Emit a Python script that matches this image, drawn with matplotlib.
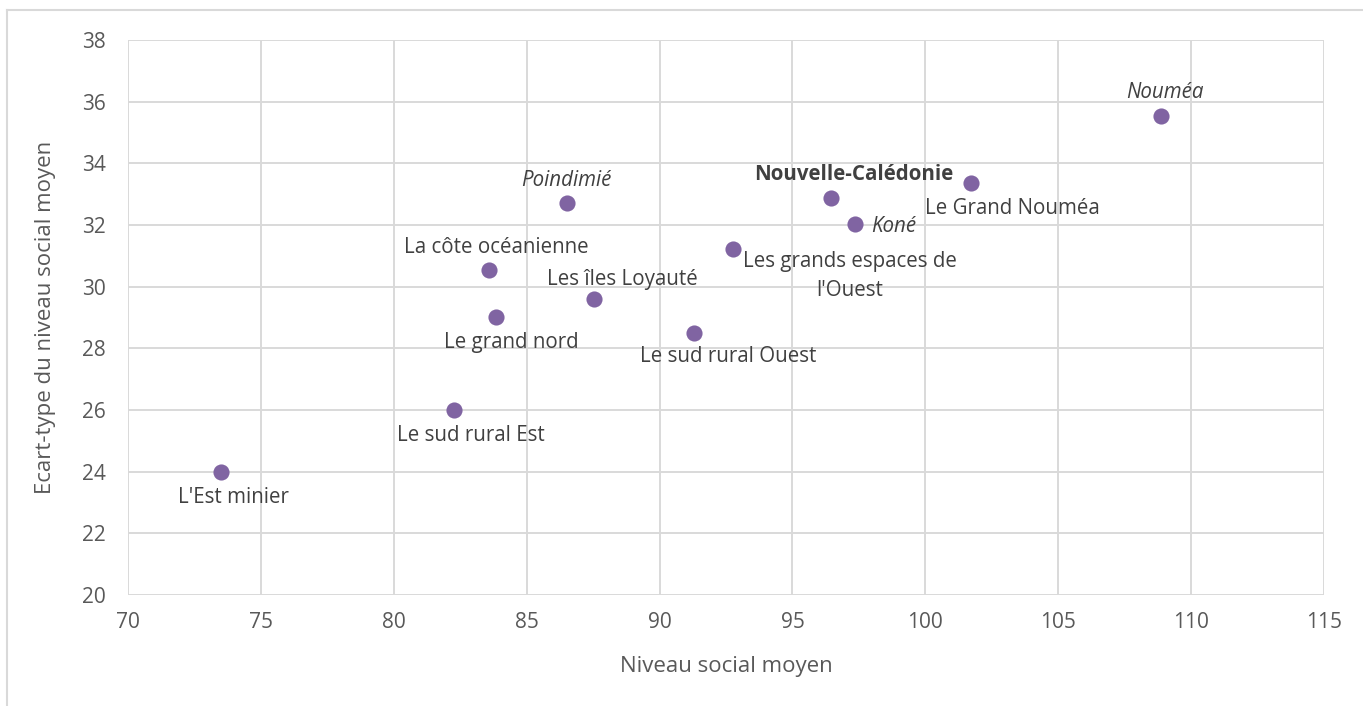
import matplotlib
matplotlib.use("Agg")
import matplotlib.pyplot as plt
from matplotlib.lines import Line2D

# données
regions = ["Nouméa", "Le Grand Nouméa", "Nouvelle-Calédonie", "Koné",
           "Les grands espaces de\nl'Ouest", "Poindimié", "La côte océanienne",
           "Les îles Loyauté", "Le grand nord", "Le sud rural Ouest",
           "Le sud rural Est", "L'Est minier"]
niveau_moyen = [108.85, 101.72, 96.44, 97.35, 92.78, 86.51, 83.59,
                87.53, 83.86, 91.29, 82.26, 73.51]
ecart_type = [35.53, 33.36, 32.88, 32.03, 31.22, 32.70, 30.54,
              29.59, 29.03, 28.51, 26.00, 23.99]

# style des étiquettes : (dx, dy en pixels, ha, style, weight)
label_style = [
    (4, 24, 'center', 'italic', 'normal'),
    (41, -25, 'center', 'normal', 'normal'),
    (23, 23, 'center', 'normal', 'bold'),
    (16, -2, 'left', 'italic', 'normal'),
    (116, -27, 'center', 'normal', 'normal'),
    (0, 23, 'center', 'italic', 'normal'),
    (7, 23, 'center', 'normal', 'normal'),
    (28, 20, 'center', 'normal', 'normal'),
    (15, -26, 'center', 'normal', 'normal'),
    (34, -24, 'center', 'normal', 'normal'),
    (17, -26, 'center', 'normal', 'normal'),
    (12, -26, 'center', 'normal', 'normal'),
]

GRID = '#D9D9D9'
TEXT = '#404040'
TICK = '#595959'
POINT = '#8064A2'

plt.rcParams['font.family'] = ['Open Sans', 'DejaVu Sans']

fig = plt.figure(figsize=(13.63, 7.06), dpi=100)
ax = fig.add_axes([128 / 1363, 1 - 595 / 706, 1196 / 1363, 555 / 706])

ax.scatter(niveau_moyen, ecart_type, s=135, color=POINT, zorder=3, linewidths=0)

for name, x, y, (dx, dy, ha, st, wt) in zip(regions, niveau_moyen, ecart_type, label_style):
    ax.annotate(name, (x, y), xytext=(dx, dy), textcoords='offset pixels',
                ha=ha, va='center', fontsize=14.8, color=TEXT, style=st,
                weight=wt, linespacing=1.55, zorder=4)

ax.set_xlim(70, 115)
ax.set_ylim(20, 38)
ax.set_xticks(range(70, 116, 5))
ax.set_yticks(range(20, 39, 2))
ax.grid(True, color=GRID, linewidth=1.4)
ax.set_axisbelow(True)
for s in ax.spines.values():
    s.set_visible(False)
ax.tick_params(length=0, labelsize=15, labelcolor=TICK, pad=12)
ax.tick_params(axis='y', pad=16)

ax.set_xlabel('Niveau social moyen', fontsize=16, color=TICK, labelpad=17)
ax.set_ylabel('Ecart-type du niveau social moyen', fontsize=16, color=TICK, labelpad=19)

# cadre extérieur du graphique
fig.add_artist(Line2D([7 / 1363, 7 / 1363], [0, 1 - 10 / 706], color=GRID, linewidth=1.5))
fig.add_artist(Line2D([7 / 1363, 1], [1 - 10 / 706, 1 - 10 / 706], color=GRID, linewidth=1.5))

fig.savefig('out.png', dpi=100)
